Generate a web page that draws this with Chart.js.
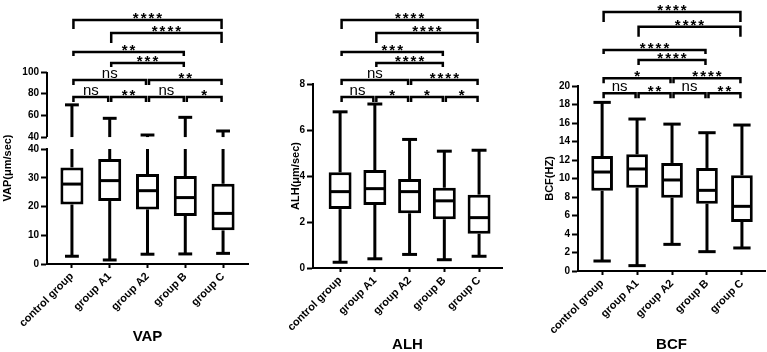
<!DOCTYPE html>
<html>
<head>
<meta charset="utf-8">
<script src="https://cdn.jsdelivr.net/npm/chart.js@4.4.1/dist/chart.umd.min.js"></script>
<style>
  html, body { margin: 0; padding: 0; background: #fff; }
  #wrap { position: relative; width: 767px; height: 352px; overflow: hidden; }
  canvas { position: absolute; top: 0; }
</style>
</head>
<body>
<div id="wrap">
  <canvas id="vapChart" width="258" height="352" style="left:0px"></canvas>
  <canvas id="alhChart" width="255" height="352" style="left:258px"></canvas>
  <canvas id="bcfChart" width="254" height="352" style="left:513px"></canvas>
</div>
<script>
const groups = ['control group', 'group A1', 'group A2', 'group B', 'group C'];

// VAP (um/sec), axis broken at 40
const vapMin = [2.7, 1.4, 3.4, 3.5, 3.7];
const vapQ1 = [20.7, 21.9, 19.0, 16.7, 11.7];
const vapMedian = [27.8, 29.0, 25.5, 23.1, 17.6];
const vapQ3 = [33.6, 36.5, 31.3, 30.6, 27.9];
const vapMax = [69.7, 57.3, 41.9, 58.2, 45.6];
const vapLowTicks = [0, 10, 20, 30, 40];
const vapHighTicks = [40, 60, 80, 100];

// ALH (um/sec)
const alhMin = [0.25, 0.40, 0.59, 0.36, 0.51];
const alhQ1 = [2.56, 2.74, 2.38, 2.12, 1.49];
const alhMedian = [3.32, 3.45, 3.32, 2.92, 2.19];
const alhQ3 = [4.16, 4.26, 3.87, 3.49, 3.19];
const alhMax = [6.79, 7.13, 5.59, 5.08, 5.12];
const alhTicks = [0, 2, 4, 6, 8];

// BCF (Hz)
const bcfMin = [1.08, 0.58, 2.88, 2.09, 2.49];
const bcfQ1 = [8.68, 9.01, 7.93, 7.28, 5.30];
const bcfMedian = [10.70, 11.03, 9.84, 8.72, 6.99];
const bcfQ3 = [12.43, 12.61, 11.68, 11.14, 10.34];
const bcfMax = [18.23, 16.43, 15.88, 14.95, 15.78];
const bcfTicks = [0, 2, 4, 6, 8, 10, 12, 14, 16, 18, 20];

// significance comparisons (group index pairs) and their labels
const sigPairs = [[0, 4], [1, 4], [0, 3], [1, 3], [0, 2], [2, 4], [0, 1], [1, 2], [2, 3], [3, 4]];
const sigRows = [0, 1, 2, 3, 4, 4, 5, 5, 5, 5];
const vapSig = ['****', '****', '**', '***', 'ns', '**', 'ns', '**', 'ns', '*'];
const alhSig = ['****', '****', '***', '****', 'ns', '****', 'ns', '*', '*', '*'];
const bcfSig = ['****', '****', '****', '****', '*', '****', 'ns', '**', 'ns', '**'];

Chart.defaults.font.family = '"Liberation Sans", Arial, sans-serif';
Chart.defaults.color = '#000';

function whiskerPlugin(stats, style) {
  return {
    id: 'whiskers',
    afterDatasetsDraw(chart) {
      const ctx = chart.ctx;
      const low = chart.scales.y;
      const high = style.highScale ? chart.scales[style.highScale] : low;
      const py = v => (style.breakAt != null && v > style.breakAt ? high : low).getPixelForValue(v);
      const line = (x1, y1, x2, y2) => {
        ctx.beginPath();
        ctx.moveTo(x1, y1);
        ctx.lineTo(x2, y2);
        ctx.stroke();
      };
      ctx.save();
      ctx.strokeStyle = '#000';
      ctx.lineWidth = 3;
      chart.getDatasetMeta(0).data.forEach((bar, i) => {
        const {x, width} = bar.getProps(['x', 'width'], true);
        const cap = width * style.capRatio / 2;
        line(x, py(stats.q1[i]), x, py(stats.min[i]));
        line(x - cap, py(stats.min[i]), x + cap, py(stats.min[i]));
        if (style.breakAt != null && stats.max[i] > style.breakAt) {
          line(x, py(stats.q3[i]), x, low.getPixelForValue(style.breakAt));
          line(x, high.getPixelForValue(style.breakAt), x, py(stats.max[i]));
        } else {
          line(x, py(stats.q3[i]), x, py(stats.max[i]));
        }
        line(x - cap, py(stats.max[i]), x + cap, py(stats.max[i]));
        line(x - width / 2 + 1, py(stats.median[i]), x + width / 2 - 1, py(stats.median[i]));
      });
      ctx.restore();
    }
  };
}

function sigPlugin(labels, style) {
  return {
    id: 'sig',
    afterDraw(chart) {
      const ctx = chart.ctx;
      const xs = chart.scales.x;
      const ys = chart.scales[style.scale];
      ctx.save();
      ctx.strokeStyle = '#000';
      ctx.fillStyle = '#000';
      ctx.lineWidth = 2.5;
      ctx.textAlign = 'center';
      ctx.textBaseline = 'alphabetic';
      sigPairs.forEach(([a, b], k) => {
        const row = sigRows[k];
        const yy = ys.getPixelForValue(style.levels[row]);
        const drop = style.drops[row];
        const x1 = xs.getPixelForValue(a) + 1.5;
        const x2 = xs.getPixelForValue(b) - 1.5;
        ctx.beginPath();
        ctx.moveTo(x1, yy + drop);
        ctx.lineTo(x1, yy);
        ctx.lineTo(x2, yy);
        ctx.lineTo(x2, yy + drop);
        ctx.stroke();
        const mid = (x1 + x2) / 2;
        if (labels[k] === 'ns') {
          ctx.letterSpacing = '0px';
          ctx.font = '15px "Liberation Sans"';
          ctx.fillText(labels[k], mid, yy - 2);
        } else {
          ctx.letterSpacing = '2px';
          ctx.font = 'bold 15px "Liberation Sans"';
          ctx.fillText(labels[k], mid + 1, yy + 3);
        }
      });
      ctx.restore();
    }
  };
}

function xScale(title, min, height, titlePad) {
  return {
    type: 'linear',
    offset: false,
    min: min,
    max: 4.66,
    afterBuildTicks: s => { s.ticks = groups.map((g, i) => ({value: i})); },
    afterFit: s => {
      s.height = height;
      s.paddingLeft = 0;
      s.paddingRight = 0;
    },
    ticks: {
      callback: v => groups[v],
      autoSkip: false,
      minRotation: 45,
      maxRotation: 45,
      padding: 2,
      font: {size: 11, weight: 'bold'},
    },
    grid: {offset: false, drawOnChartArea: false, tickLength: 4, tickWidth: 2, color: '#000'},
    border: {display: true, width: 2, color: '#000'},
    title: {display: true, text: title, font: {size: 15, weight: 'bold', lineHeight: 1}, padding: {top: 0, bottom: titlePad}},
  };
}

function yScale(ticks, min, max, width) {
  return {
    type: 'linear',
    position: 'left',
    min: min,
    max: max,
    afterBuildTicks: s => { s.ticks = ticks.map(v => ({value: v})); },
    afterFit: s => { s.width = width; },
    ticks: {padding: 2, font: {size: 10, weight: 'bold'}},
    grid: {drawOnChartArea: false, tickLength: 6, tickWidth: 2, color: '#000'},
    border: {display: true, width: 2, color: '#000'},
  };
}

function boxDataset(q1, q3, barPct) {
  return {
    data: q1.map((v, i) => ({x: i, y: [v, q3[i]]})),
    backgroundColor: '#fff',
    borderColor: '#000',
    borderWidth: 3,
    borderSkipped: false,
    barPercentage: barPct,
    categoryPercentage: 1,
  };
}

// VAP
const vapLow = yScale(vapLowTicks, 0, 40, 47);
vapLow.stack = 'vap';
vapLow.stackWeight = 115;
const vapHigh = yScale(vapHighTicks, 29, 100, 47);
vapHigh.stack = 'vap';
vapHigh.stackWeight = 77;
vapHigh.border = {display: false};

const vapExtras = {
  id: 'vapExtras',
  afterDraw(chart) {
    const {ctx, chartArea} = chart;
    const hi = chart.scales.y2;
    ctx.save();
    ctx.strokeStyle = '#000';
    ctx.lineWidth = 2;
    ctx.beginPath();
    ctx.moveTo(chartArea.left, hi.getPixelForValue(vapHighTicks[0]));
    ctx.lineTo(chartArea.left, hi.getPixelForValue(vapHighTicks[vapHighTicks.length - 1]));
    ctx.stroke();
    ctx.translate(8, (chartArea.top + chartArea.bottom) / 2);
    ctx.rotate(-Math.PI / 2);
    ctx.fillStyle = '#000';
    ctx.font = 'bold 11px "Liberation Sans"';
    ctx.textAlign = 'center';
    ctx.textBaseline = 'middle';
    ctx.fillText('VAP(μm/sec)', 0, 0);
    ctx.restore();
  }
};

new Chart(document.getElementById('vapChart'), {
  type: 'bar',
  data: {datasets: [Object.assign(boxDataset(vapQ1, vapQ3, 0.61), {yAxisID: 'y'})]},
  options: {
    responsive: false,
    animation: false,
    layout: {padding: {top: 72, right: 10, left: 0, bottom: 0}},
    plugins: {legend: {display: false}, tooltip: {enabled: false}},
    scales: {x: xScale('VAP', -0.66, 88, 8), y: vapLow, y2: vapHigh},
  },
  plugins: [
    whiskerPlugin({min: vapMin, q1: vapQ1, median: vapMedian, q3: vapQ3, max: vapMax},
      {capRatio: 0.6, breakAt: 40, highScale: 'y2'}),
    sigPlugin(vapSig, {scale: 'y2', levels: [148, 136, 118.5, 108.3, 92.6, 76.9], drops: [9, 10, 4, 4, 5, 5]}),
    vapExtras,
  ],
});

// ALH
const alhY = yScale(alhTicks, 0, 8, 55);
alhY.title = {display: true, text: 'ALH(μm/sec)', font: {size: 11, weight: 'bold'}, padding: {top: 31, bottom: 0}};

new Chart(document.getElementById('alhChart'), {
  type: 'bar',
  data: {datasets: [boxDataset(alhQ1, alhQ3, 0.66)]},
  options: {
    responsive: false,
    animation: false,
    layout: {padding: {top: 84, right: 11, left: 0, bottom: 0}},
    plugins: {legend: {display: false}, tooltip: {enabled: false}},
    scales: {x: xScale('ALH', -0.78, 84, 0), y: alhY},
  },
  plugins: [
    whiskerPlugin({min: alhMin, q1: alhQ1, median: alhMedian, q3: alhQ3, max: alhMax}, {capRatio: 0.65}),
    sigPlugin(alhSig, {scale: 'y', levels: [10.78, 10.22, 9.39, 8.91, 8.17, 7.43], drops: [9, 10, 4, 4, 5, 5]}),
  ],
});

// BCF
const bcfY = yScale(bcfTicks, 0, 20, 65);
bcfY.title = {display: true, text: 'BCF(HZ)', font: {size: 11, weight: 'bold'}, padding: {top: 30, bottom: 0}};

new Chart(document.getElementById('bcfChart'), {
  type: 'bar',
  data: {datasets: [boxDataset(bcfQ1, bcfQ3, 0.62)]},
  options: {
    responsive: false,
    animation: false,
    layout: {padding: {top: 86, right: 2, left: 0, bottom: 0}},
    plugins: {legend: {display: false}, tooltip: {enabled: false}},
    scales: {x: xScale('BCF', -0.69, 81, 0), y: bcfY},
  },
  plugins: [
    whiskerPlugin({min: bcfMin, q1: bcfQ1, median: bcfMedian, q3: bcfQ3, max: bcfMax}, {capRatio: 0.8}),
    sigPlugin(bcfSig, {scale: 'y', levels: [28.0, 26.4, 23.9, 22.8, 20.83, 19.21], drops: [10, 10, 4, 5, 5, 5]}),
  ],
});
</script>
</body>
</html>
